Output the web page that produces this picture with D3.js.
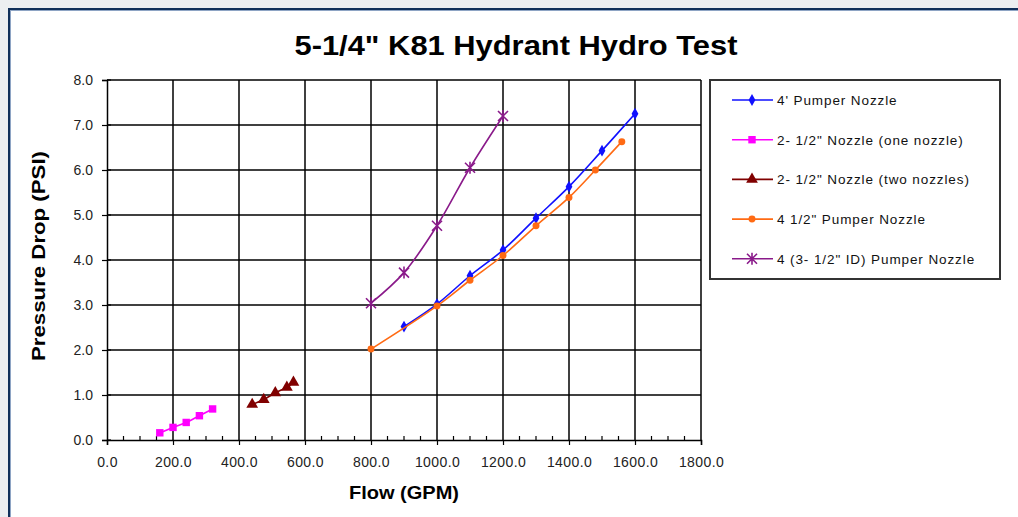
<!DOCTYPE html>
<html>
<head>
<meta charset="utf-8">
<script src="https://cdn.jsdelivr.net/npm/d3@7"></script>
<style>
  body { margin: 0; background: #eceff1; }
  svg { display: block; }
  text { font-family: "Liberation Sans", Arial, sans-serif; }
</style>
</head>
<body>
<div id="chart"></div>
<script>
// values
var pumper4X = [900, 1000, 1100, 1200, 1300, 1400, 1500, 1600];
var pumper4Y = [2.52, 3.02, 3.65, 4.22, 4.93, 5.63, 6.43, 7.25];
var oneNozzleX = [160, 200, 240, 280, 320];
var oneNozzleY = [0.16, 0.28, 0.39, 0.54, 0.69];
var twoNozzleX = [440, 475, 510, 545, 565];
var twoNozzleY = [0.79, 0.9, 1.05, 1.17, 1.28];
var pumper45X = [800, 1000, 1100, 1200, 1300, 1400, 1480, 1560];
var pumper45Y = [2.02, 2.98, 3.55, 4.1, 4.76, 5.39, 6.0, 6.63];
var idX = [800, 900, 1000, 1100, 1200];
var idY = [3.04, 3.72, 4.76, 6.05, 7.2];

var seriesNames = [
  "4' Pumper Nozzle",
  "2- 1/2\"  Nozzle (one nozzle)",
  "2- 1/2\"  Nozzle (two nozzles)",
  "4 1/2\" Pumper Nozzle",
  "4 (3- 1/2\" ID) Pumper Nozzle"
];
var xTicks = [0, 200, 400, 600, 800, 1000, 1200, 1400, 1600, 1800];
var yTicks = [0, 1, 2, 3, 4, 5, 6, 7, 8];

var W = 1018, H = 517;
var svg = d3.select("#chart").append("svg")
  .attr("width", W)
  .attr("height", H);

//chart frame, runs off the right and bottom edges
svg.append("rect")
  .attr("x", 9).attr("y", 9)
  .attr("width", W + 10).attr("height", H + 10)
  .attr("fill", "white")
  .attr("stroke", "#10305a")
  .attr("stroke-width", 2);
svg.append("rect")
  .attr("x", 10.5).attr("y", 10.5)
  .attr("width", W + 10).attr("height", H + 10)
  .attr("fill", "none")
  .attr("stroke", "#8ea4c4")
  .attr("stroke-width", 1);

var x = d3.scaleLinear().domain([0, 1800]).range([107, 701]);
var y = d3.scaleLinear().domain([0, 8]).range([440, 80]);

//title
svg.append("text")
  .attr("x", 516).attr("y", 55)
  .attr("text-anchor", "middle")
  .attr("font-size", 27)
  .attr("font-weight", "bold")
  .attr("textLength", 443)
  .attr("lengthAdjust", "spacingAndGlyphs")
  .text("5-1/4\" K81 Hydrant Hydro Test");

//grid
var grid = svg.append("g");
grid.selectAll(".vg").data(xTicks.slice(1)).enter().append("line")
  .attr("x1", d => x(d)).attr("x2", d => x(d))
  .attr("y1", y(8)).attr("y2", y(0))
  .attr("stroke", "black").attr("stroke-width", 1.5);
grid.selectAll(".hg").data(yTicks.slice(1)).enter().append("line")
  .attr("x1", x(0)).attr("x2", x(1800))
  .attr("y1", d => y(d)).attr("y2", d => y(d))
  .attr("stroke", "black").attr("stroke-width", 1.5);

//axes
var xAxis = svg.append("g")
  .attr("transform", "translate(0," + y(0) + ")")
  .call(d3.axisBottom(x).tickValues(xTicks).tickFormat(d3.format(".1f")).tickSize(5).tickPadding(12));
var yAxis = svg.append("g")
  .attr("transform", "translate(" + x(0) + ",0)")
  .call(d3.axisLeft(y).tickValues(yTicks).tickFormat(d3.format(".1f")).tickSize(5).tickPadding(9));

[xAxis, yAxis].forEach(function(a) {
  a.select(".domain").attr("stroke", "black").attr("stroke-width", 1.5);
  a.selectAll(".tick line").attr("stroke", "black").attr("stroke-width", 1.2);
  a.selectAll(".tick text")
    .attr("font-size", 14)
    .attr("fill", "#222")
    .style("font-family", "'Liberation Sans', Arial, sans-serif");
});
xAxis.selectAll(".tick text").attr("letter-spacing", 0.4);

//minor ticks on x axis (inside)
var minor = d3.range(50, 1800, 50).filter(d => d % 200 != 0);
svg.append("g").selectAll("line").data(minor).enter().append("line")
  .attr("x1", d => x(d)).attr("x2", d => x(d))
  .attr("y1", y(0)).attr("y2", y(0) - 4)
  .attr("stroke", "black").attr("stroke-width", 1.2);
//y ticks cross inside a little
svg.append("g").selectAll("line").data(yTicks).enter().append("line")
  .attr("x1", x(0)).attr("x2", x(0) + 4)
  .attr("y1", d => y(d)).attr("y2", d => y(d))
  .attr("stroke", "black").attr("stroke-width", 1.2);

//axis titles
svg.append("text")
  .attr("x", x(900)).attr("y", 499)
  .attr("text-anchor", "middle")
  .attr("font-size", 18)
  .attr("font-weight", "bold")
  .attr("textLength", 110)
  .attr("lengthAdjust", "spacingAndGlyphs")
  .text("Flow (GPM)");
svg.append("text")
  .attr("transform", "translate(45,256) rotate(-90)")
  .attr("text-anchor", "middle")
  .attr("font-size", 18)
  .attr("font-weight", "bold")
  .attr("textLength", 210)
  .attr("lengthAdjust", "spacingAndGlyphs")
  .text("Pressure  Drop  (PSI)");

//series
var series = [
  { name: seriesNames[0], xs: pumper4X, ys: pumper4Y, color: "#1010ff", marker: "diamond" },
  { name: seriesNames[1], xs: oneNozzleX, ys: oneNozzleY, color: "#ff00ff", marker: "square" },
  { name: seriesNames[2], xs: twoNozzleX, ys: twoNozzleY, color: "#800000", marker: "triangle" },
  { name: seriesNames[3], xs: pumper45X, ys: pumper45Y, color: "#ff6a13", marker: "circle" },
  { name: seriesNames[4], xs: idX, ys: idY, color: "#8a1a8a", marker: "star" }
];

var line = d3.line()
  .x(d => x(d[0]))
  .y(d => y(d[1]))
  .curve(d3.curveCatmullRom.alpha(0.5));

function drawMarker(g, kind, color) {
  if (kind == "star") {
    var s = 5;
    g.append("path")
      .attr("d", "M" + (-s) + "," + (-s) + "L" + s + "," + s +
                 "M" + s + "," + (-s) + "L" + (-s) + "," + s +
                 "M0," + (-s - 1) + "L0," + (s + 1))
      .attr("stroke", color)
      .attr("stroke-width", 1.6)
      .attr("fill", "none");
    return;
  }
  var types = {
    diamond: [d3.symbolDiamond, 40],
    square: [d3.symbolSquare, 55],
    triangle: [d3.symbolTriangle, 60],
    circle: [d3.symbolCircle, 38]
  };
  var t = types[kind];
  g.append("path")
    .attr("d", d3.symbol().type(t[0]).size(t[1])())
    .attr("fill", color);
}

series.forEach(function(s) {
  var pts = s.xs.map((v, i) => [v, s.ys[i]]);
  svg.append("path")
    .datum(pts)
    .attr("d", line)
    .attr("fill", "none")
    .attr("stroke", s.color)
    .attr("stroke-width", 1.6);
  pts.forEach(function(p) {
    var g = svg.append("g")
      .attr("transform", "translate(" + x(p[0]) + "," + y(p[1]) + ")");
    drawMarker(g, s.marker, s.color);
  });
});

//legend
svg.append("rect")
  .attr("x", 710).attr("y", 80)
  .attr("width", 290).attr("height", 199)
  .attr("fill", "white")
  .attr("stroke", "#333")
  .attr("stroke-width", 2);

var legend = svg.append("g");
series.forEach(function(s, i) {
  var ly = 100 + i * 39.7;
  legend.append("line")
    .attr("x1", 732).attr("x2", 773)
    .attr("y1", ly).attr("y2", ly)
    .attr("stroke", s.color)
    .attr("stroke-width", 1.6);
  var g = legend.append("g").attr("transform", "translate(752," + ly + ")");
  drawMarker(g, s.marker, s.color);
  legend.append("text")
    .attr("x", 777).attr("y", ly + 5)
    .attr("font-size", 13.5)
    .attr("letter-spacing", 0.9)
    .attr("fill", "#111")
    .text(s.name);
});
</script>
</body>
</html>
